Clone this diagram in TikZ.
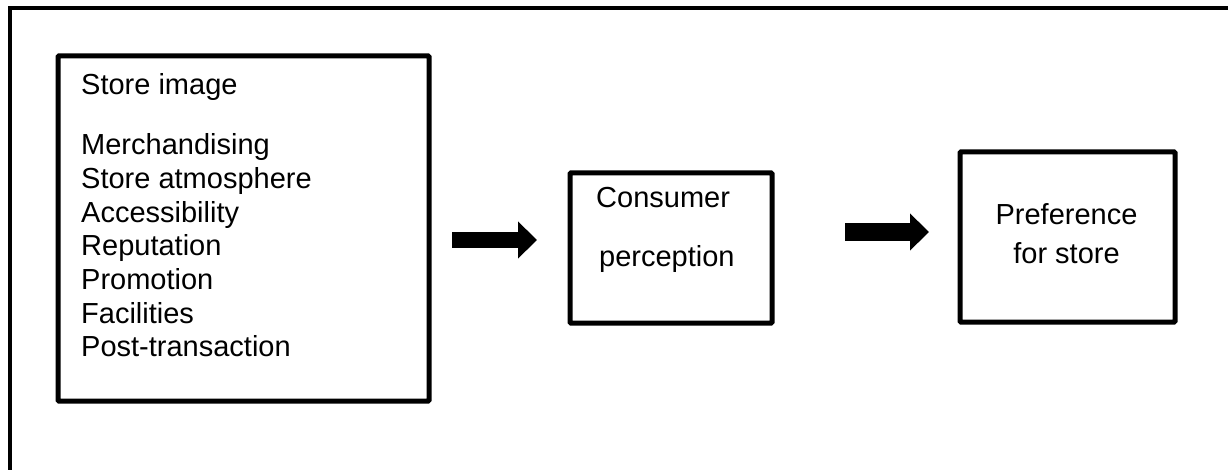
\documentclass[tikz,border=0pt]{standalone}
\usepackage{fontspec}
\setmainfont{Liberation Sans}
\usetikzlibrary{arrows.meta}

\tikzset{
  frame/.style={line width=4pt},
  boxnode/.style={draw, line width=5pt, inner sep=0pt, rounded corners=1pt},
  label/.style={inner sep=0pt, font=\fontsize{29}{33.6}\selectfont},
  fatarrow/.style={line width=#1, -{Triangle[length=19pt,width=36pt]}}
}

\begin{document}
\begin{tikzpicture}[x=1pt,y=-1pt]
  \useasboundingbox (0,0) rectangle (1228,470);
  \clip (0,0) rectangle (1228,470);

  % enclosing frame (runs off the page to the right and bottom)
  \draw[frame] (1260,8) -- (10,8) -- (10,500);

  % boxes
  \node[boxnode, minimum width=371pt, minimum height=345pt] (store) at (243.5,228.5) {};
  \node[boxnode, minimum width=202pt, minimum height=150pt] (perc) at (671,248) {};
  \node[boxnode, minimum width=215pt, minimum height=170pt] (pref) at (1067.5,237) {};

  % store image attributes
  \node[label, anchor=base west] (t0) at (81,95) {Store image};
  \node[label, anchor=base west] (t1) at (81,155) {Merchandising};
  \node[label, anchor=base west] (t2) at (81,188.6) {Store atmosphere};
  \node[label, anchor=base west] (t3) at (81,222.2) {Accessibility};
  \node[label, anchor=base west] (t4) at (81,255.8) {Reputation};
  \node[label, anchor=base west] (t5) at (81,289.4) {Promotion};
  \node[label, anchor=base west] (t6) at (81,323) {Facilities};
  \node[label, anchor=base west] (t7) at (81,356.6) {Post-transaction};

  % consumer perception
  \node[label, anchor=base west] (p1) at (596,208) {Consumer};
  \node[label, anchor=base west] (p2) at (599,267) {perception};

  % preference
  \node[label, anchor=base] (q1) at (1066.5,225) {Preference};
  \node[label, anchor=base] (q2) at (1066.5,263) {for store};

  % block arrows between the stages
  \coordinate (a1s) at (452,240);
  \coordinate (a1e) at (537,240);
  \coordinate (a2s) at (845,232);
  \coordinate (a2e) at (929,232);
  \draw[fatarrow=16pt] (a1s) -- (a1e);
  \draw[fatarrow=18pt] (a2s) -- (a2e);
\end{tikzpicture}
\end{document}
